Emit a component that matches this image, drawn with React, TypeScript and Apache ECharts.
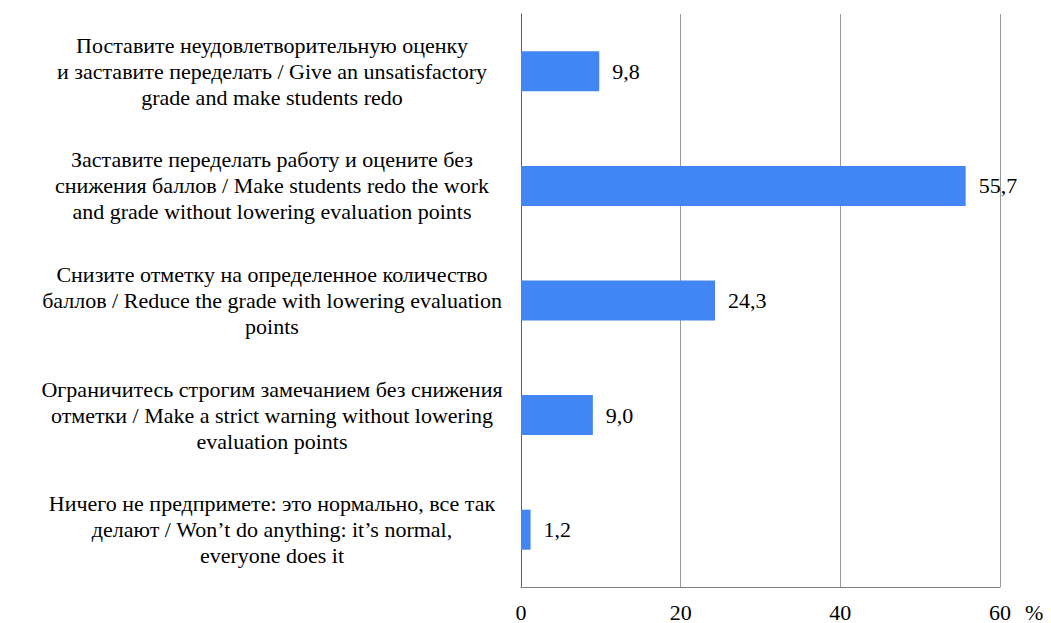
import React, { useEffect, useRef } from "react";
import * as echarts from "echarts";

const categories: string[] = [
  "Поставите неудовлетворительную оценку\nи заставите переделать / Give an unsatisfactory\ngrade and make students redo",
  "Заставите переделать работу и оцените без\nснижения баллов / Make students redo the work\nand grade without lowering evaluation points",
  "Снизите отметку на определенное количество\nбаллов / Reduce the grade with lowering evaluation\npoints",
  "Ограничитесь строгим замечанием без снижения\nотметки / Make a strict warning without lowering\nevaluation points",
  "Ничего не предпримете: это нормально, все так\nделают / Won’t do anything: it’s normal,\neveryone does it",
];
const values: number[] = [9.8, 55.7, 24.3, 9.0, 1.2];
const xTicks = { min: 0, max: 60, interval: 20 };
const unitLabel = "%";

const FONT = "Liberation Serif";
const FS = 22;

echarts.registerTheme("serifTheme", { textStyle: { fontFamily: FONT } });

export default function App() {
  const ref = useRef<HTMLDivElement>(null);
  useEffect(() => {
    if (!ref.current) return;
    const chart = echarts.init(ref.current, "serifTheme", { renderer: "svg" });
    chart.setOption({
      animation: false,
      textStyle: { fontFamily: FONT },
      grid: { left: 521, right: 51, top: 14, bottom: 35, containLabel: false },
      xAxis: {
        type: "value",
        min: xTicks.min,
        max: xTicks.max,
        interval: xTicks.interval,
        name: unitLabel,
        nameLocation: "end",
        nameGap: 25,
        nameTextStyle: {
          fontFamily: FONT,
          fontSize: FS,
          color: "#000",
          verticalAlign: "top",
          padding: [14, 0, 0, 0],
        },
        axisLine: { show: true, lineStyle: { color: "#808080", width: 1 } },
        axisTick: { show: false },
        axisLabel: {
          fontFamily: FONT,
          fontSize: FS,
          color: "#000",
          margin: 14,
        },
        splitLine: { show: true, lineStyle: { color: "#9a9a9a", width: 1 } },
      },
      yAxis: {
        type: "category",
        data: categories,
        inverse: true,
        axisLine: { show: true, lineStyle: { color: "#606060", width: 1 } },
        axisTick: { show: false },
        axisLabel: {
          fontFamily: FONT,
          fontSize: FS,
          color: "#000",
          align: "center",
          margin: 249,
          lineHeight: 26,
        },
        splitLine: { show: false },
      },
      series: [
        {
          type: "bar",
          data: values,
          barWidth: 40,
          itemStyle: { color: "#4285F4" },
          label: {
            show: true,
            position: "right",
            distance: 13,
            fontFamily: FONT,
            fontSize: FS,
            color: "#000",
            formatter: (p: any) => Number(p.value).toFixed(1).replace(".", ","),
          },
        },
      ],
    });
    return () => chart.dispose();
  }, []);
  return (
    <div
      ref={ref}
      style={{ position: "fixed", left: 0, top: 0, width: 1051, height: 623, background: "#fff" }}
    />
  );
}
